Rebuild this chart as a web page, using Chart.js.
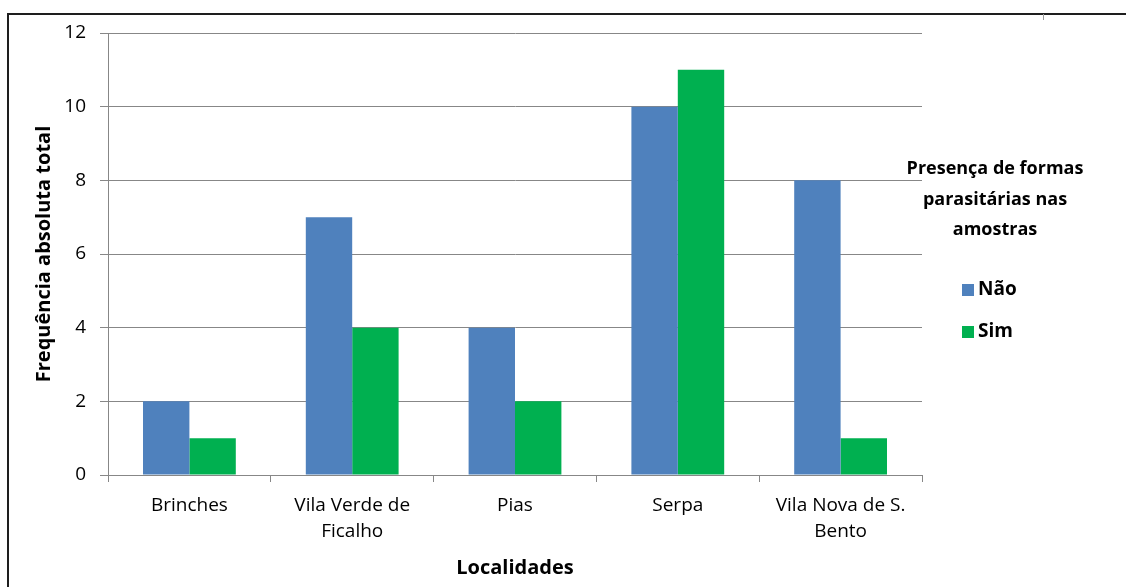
<!DOCTYPE html>
<html lang="pt">
<head>
<meta charset="utf-8">
<title>Frequência absoluta total por localidade</title>
<script src="https://cdn.jsdelivr.net/npm/chart.js@4/dist/chart.umd.min.js"></script>
<style>
  html, body { margin: 0; padding: 0; background: #ffffff; }
  #wrap { width: 1126px; height: 587px; }
</style>
</head>
<body>
<div id="wrap"><canvas id="chart" width="1126" height="587"></canvas></div>
<script>
// Localidades (eixo X) e contagens por presença de formas parasitárias
const localidades = ['Brinches', ['Vila Verde de', 'Ficalho'], 'Pias', 'Serpa', ['Vila Nova de S.', 'Bento']];
const naoValores = [2, 7, 4, 10, 8];
const simValores = [1, 4, 2, 11, 1];
const serieNomes = ['Não', 'Sim'];
const yTicks = [0, 2, 4, 6, 8, 10, 12];

const legendaTitulo = ['Presença de formas', 'parasitárias nas', 'amostras'];
const FONTE = '"Open Sans", "Noto Sans", "Liberation Sans", sans-serif';
const CINZA = '#878787';

// Moldura exterior do gráfico
const molduraPlugin = {
  id: 'moldura',
  afterDraw(chart) {
    const ctx = chart.ctx;
    ctx.save();
    ctx.strokeStyle = '#1e1e1e';
    ctx.lineWidth = 2;
    ctx.beginPath();
    ctx.moveTo(8, 600);
    ctx.lineTo(8, 14);
    ctx.lineTo(1130, 14);
    ctx.stroke();
    ctx.strokeStyle = '#9a9a9a';
    ctx.lineWidth = 1;
    ctx.beginPath();
    ctx.moveTo(1043.5, 14);
    ctx.lineTo(1043.5, 20);
    ctx.stroke();
    ctx.restore();
  }
};

// Legenda à direita com título em três linhas
const legendaPlugin = {
  id: 'legendaDireita',
  afterDraw(chart) {
    const ctx = chart.ctx;
    ctx.save();
    ctx.fillStyle = '#000000';
    ctx.font = 'bold 18px ' + FONTE;
    ctx.textAlign = 'center';
    ctx.textBaseline = 'middle';
    legendaTitulo.forEach((linha, i) => ctx.fillText(linha, 995, 169 + i * 30.5));
    ctx.textAlign = 'left';
    ctx.font = 'bold 19px ' + FONTE;
    chart.data.datasets.forEach((ds, i) => {
      const y = 290 + i * 42;
      ctx.fillStyle = ds.backgroundColor;
      ctx.fillRect(962, y - 6, 12, 12);
      ctx.fillStyle = '#000000';
      ctx.fillText(ds.label, 978, y);
    });
    ctx.restore();
  }
};

new Chart(document.getElementById('chart'), {
  type: 'bar',
  data: {
    labels: localidades,
    datasets: [
      { label: serieNomes[0], data: naoValores, backgroundColor: '#4F81BD' },
      { label: serieNomes[1], data: simValores, backgroundColor: '#00B050' }
    ]
  },
  options: {
    responsive: false,
    animation: false,
    devicePixelRatio: 1,
    layout: { padding: { left: 0, top: 33, right: 204, bottom: 0 } },
    datasets: { bar: { categoryPercentage: 0.57, barPercentage: 1.0 } },
    plugins: {
      legend: { display: false },
      tooltip: { enabled: false }
    },
    scales: {
      x: {
        offset: true,
        grid: {
          offset: true,
          drawOnChartArea: false,
          drawTicks: true,
          tickLength: 7,
          color: CINZA,
          lineWidth: 1
        },
        border: { color: CINZA, width: 1 },
        ticks: {
          color: '#000000',
          padding: 11,
          maxRotation: 0,
          autoSkip: false,
          font: { family: FONTE, size: 19, lineHeight: 26 / 19 }
        },
        title: {
          display: true,
          text: 'Localidades',
          color: '#000000',
          font: { family: FONTE, size: 20, weight: 'bold', lineHeight: 1.2 },
          padding: { top: 0, bottom: 7 }
        },
        afterFit(scale) { scale.height = 587 - 475; }
      },
      y: {
        min: 0,
        max: 12,
        afterBuildTicks(scale) { scale.ticks = yTicks.map(v => ({ value: v })); },
        grid: {
          color: CINZA,
          lineWidth: 1,
          tickLength: 8,
          drawTicks: true
        },
        border: { color: CINZA, width: 1 },
        ticks: {
          color: '#000000',
          padding: 14,
          font: { family: FONTE, size: 19 }
        },
        title: {
          display: true,
          text: 'Frequência absoluta total',
          color: '#000000',
          font: { family: FONTE, size: 20, weight: 'bold', lineHeight: 1.2 },
          padding: { top: 32, bottom: 0 }
        },
        afterFit(scale) { scale.width = 108; }
      }
    }
  },
  plugins: [molduraPlugin, legendaPlugin]
});
</script>
</body>
</html>
